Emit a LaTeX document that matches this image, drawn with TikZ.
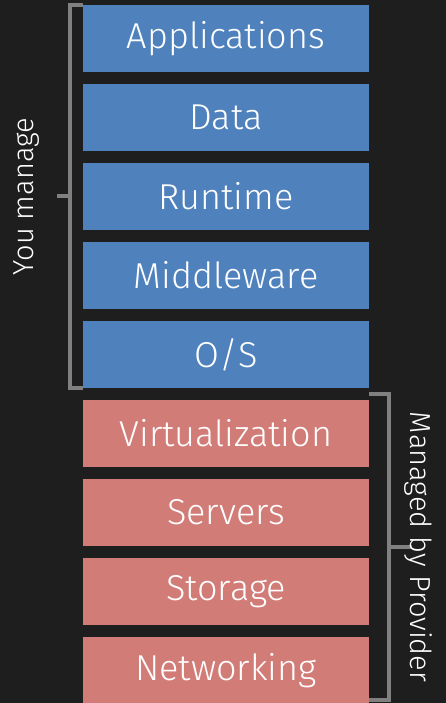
\documentclass[tikz,border=0pt]{standalone}
\usepackage{fontspec}
\setmainfont{Fira Sans Light}
\usepackage{tikz}
\usetikzlibrary{positioning,calc}
\definecolor{boardbg}{RGB}{30,30,30}
\definecolor{userblue}{RGB}{79,129,189}
\definecolor{provred}{RGB}{210,124,120}
\definecolor{bracegray}{RGB}{128,128,128}
\tikzset{
  userbox/.style={fill=userblue, text=white, font=\fontsize{36}{40}\selectfont,
    minimum width=286pt, minimum height=67pt, inner sep=0pt, outer sep=0pt},
  provbox/.style={userbox, fill=provred},
  bracket/.style={draw=bracegray, line width=4pt},
  sidelbl/.style={text=white, font=\fontsize{29}{32}\selectfont, inner sep=0pt}
}

\begin{document}
\begin{tikzpicture}[x=1pt, y=-1pt, node distance=12pt]
  \fill[boardbg] (0,0) rectangle (446,703);
  \useasboundingbox (0,0) rectangle (446,703);

  % customer side
  \node (app) [userbox] at (226,38.5) {Applications};
  \node (data) [userbox, below=of app] {Data};
  \node (runtime) [userbox, below=of data] {Runtime};
  \node (middle) [userbox, below=of runtime] {Middleware};
  \node (os) [userbox, below=of middle] {O/S};

  % provider side
  \node (virt) [provbox, below=of os] {Virtualization};
  \node (servers) [provbox, below=of virt] {Servers};
  \node (storage) [provbox, below=of servers] {Storage};
  \node (net) [provbox, below=of storage] {Networking};

  % brackets
  \draw[bracket] (app.north west) -- ++(-13,0) |- (os.south west);
  \coordinate (youmid) at ($(app.north west)!0.5!(os.south west) + (-13,0)$);
  \draw[bracket] (youmid) -- ++(-13,0) coordinate (youtick);
  \node[sidelbl, rotate=90] (youlbl) at ($(youtick)+(-30,0)$) {You manage};

  \draw[bracket] ([yshift=6pt]virt.north east) -- ++(20,0) |- ([yshift=4pt]net.south east);
  \coordinate (provmid) at ($([yshift=6pt]virt.north east)!0.5!([yshift=4pt]net.south east) + (20,0)$);
  \draw[bracket] (provmid) -- ++(23,0) coordinate (provtick);
  \node[sidelbl, rotate=-90] (provlbl) at ($(provtick)+(6,0)$) {Managed by Provider};
\end{tikzpicture}
\end{document}
